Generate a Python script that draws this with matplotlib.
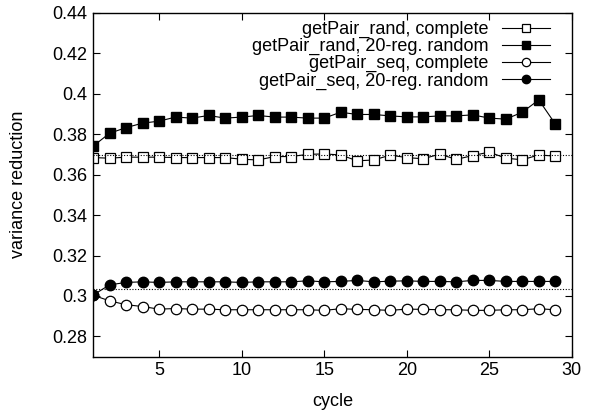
import matplotlib
matplotlib.use("Agg")
import matplotlib.pyplot as plt
import numpy as np

plt.rcParams['font.family'] = ['Liberation Sans', 'DejaVu Sans']

cycles = list(range(1, 30))

rand_complete = [0.3684, 0.3681, 0.3686, 0.3686, 0.3686, 0.3684, 0.3684, 0.3684, 0.3684, 0.3676,
                 0.3672, 0.3689, 0.3689, 0.3700, 0.3702, 0.3697, 0.3668, 0.3672, 0.3696, 0.3684,
                 0.3678, 0.3701, 0.3675, 0.3694, 0.3711, 0.3681, 0.3673, 0.3697, 0.3691]
rand_20reg = [0.3740, 0.3804, 0.3832, 0.3854, 0.3864, 0.3884, 0.3879, 0.3892, 0.3879, 0.3884,
              0.3892, 0.3884, 0.3884, 0.3879, 0.3879, 0.3908, 0.3897, 0.3897, 0.3890, 0.3885,
              0.3885, 0.3890, 0.3890, 0.3895, 0.3879, 0.3874, 0.3908, 0.3969, 0.3850]
seq_complete = [0.3004, 0.2976, 0.2957, 0.2948, 0.2935, 0.2938, 0.2935, 0.2935, 0.2932, 0.2932,
                0.2932, 0.2932, 0.2932, 0.2932, 0.2929, 0.2937, 0.2934, 0.2932, 0.2929, 0.2935,
                0.2934, 0.2932, 0.2932, 0.2929, 0.2929, 0.2932, 0.2932, 0.2937, 0.2932]
seq_20reg = [0.3004, 0.3055, 0.3067, 0.3070, 0.3067, 0.3070, 0.3070, 0.3070, 0.3070, 0.3067,
             0.3070, 0.3070, 0.3070, 0.3075, 0.3070, 0.3072, 0.3077, 0.3070, 0.3073, 0.3075,
             0.3072, 0.3072, 0.3070, 0.3077, 0.3077, 0.3072, 0.3072, 0.3072, 0.3072]
ref_levels = [0.3697, 0.3036]

labels = ['getPair_rand, complete', 'getPair_rand, 20-reg. random',
          'getPair_seq, complete', 'getPair_seq, 20-reg. random']

fig = plt.figure(figsize=(6.0, 4.17), dpi=100)
ax = fig.add_axes([0.155, 0.1446, 0.798, 0.825])

lw = 0.8
ms = 7.5
ax.plot(cycles, rand_complete, color='black', lw=lw, marker='s', ms=ms, mfc='white', mec='black', mew=0.9, label=labels[0])
ax.plot(cycles, rand_20reg, color='black', lw=lw, marker='s', ms=ms, mfc='black', mec='black', label=labels[1])
ax.plot(cycles, seq_complete, color='black', lw=lw, marker='o', ms=ms, mfc='white', mec='black', mew=0.9, label=labels[2])
ax.plot(cycles, seq_20reg, color='black', lw=lw, marker='o', ms=ms, mfc='black', mec='black', label=labels[3])
for lv in ref_levels:
    ax.axhline(lv, color='black', lw=0.8, ls=(0, (1, 1.5)))

fs = 13
ax.set_xlim(1, 30)
ax.set_ylim(0.27, 0.44)
ax.set_xticks([5, 10, 15, 20, 25, 30])
ax.set_yticks([0.28, 0.3, 0.32, 0.34, 0.36, 0.38, 0.4, 0.42, 0.44])
ax.set_yticklabels(['0.28', '0.3', '0.32', '0.34', '0.36', '0.38', '0.4', '0.42', '0.44'])
ax.tick_params(direction='in', top=True, right=True, length=5, width=0.8, labelsize=fs, pad=4)
for s in ax.spines.values():
    s.set_linewidth(1.0)

ax.set_xlabel('cycle', fontsize=fs, labelpad=10)
ax.set_ylabel('variance reduction', fontsize=fs, labelpad=18)

leg = ax.legend(loc='upper right', frameon=False, markerfirst=False, fontsize=fs,
                handlelength=2.65, handletextpad=0.75, labelspacing=0.0, borderaxespad=0.0,
                borderpad=0.0, markerscale=0.8, bbox_to_anchor=(0.954, 0.976))
for t in leg.get_texts():
    t.set_ha('right')
leg._legend_box.align = 'right'

fig.savefig('out.png', dpi=100)
